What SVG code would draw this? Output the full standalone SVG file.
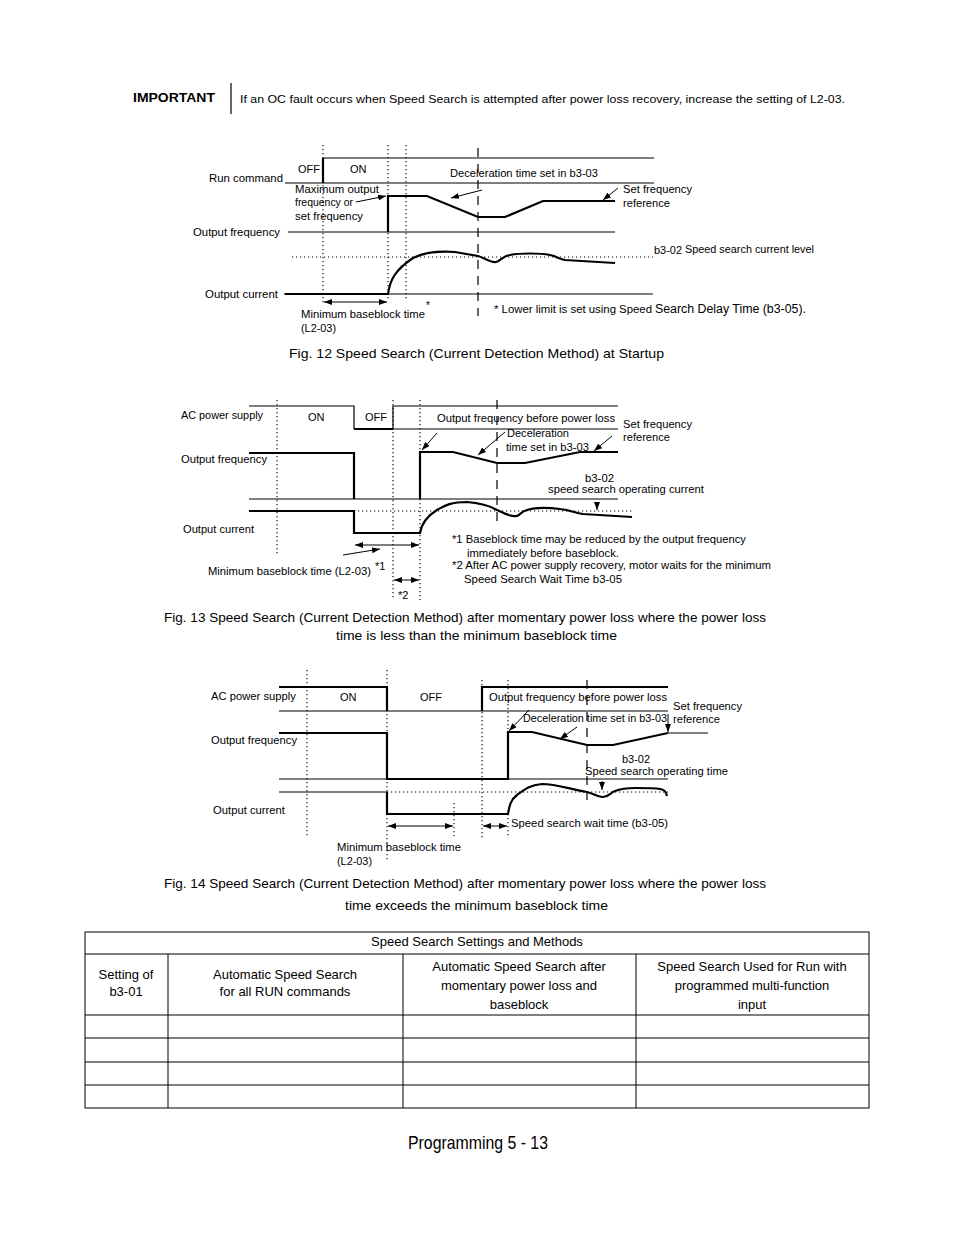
<svg xmlns="http://www.w3.org/2000/svg" width="954" height="1235" viewBox="0 0 954 1235">
<defs>
<marker id="ah" viewBox="0 0 8 6" refX="8" refY="3" markerWidth="8" markerHeight="6" markerUnits="userSpaceOnUse" orient="auto-start-reverse"><path d="M0,0 L8,3 L0,6 Z" fill="#000"/></marker>
<style>
text{font-family:"Liberation Sans",Arial,Helvetica,sans-serif;fill:#000;}
.t11{font-size:11px;}
.t10{font-size:10px;}
.t12{font-size:12px;}
.cap{font-size:13.5px;}
.tb{font-size:13px;}
.ax{stroke:#000;stroke-width:1.2;fill:none;}
.sig{stroke:#000;stroke-width:2.2;fill:none;}
.dot{stroke:#000;stroke-width:1.1;stroke-dasharray:1.2 2.8;fill:none;}
.dash{stroke:#000;stroke-width:1.2;stroke-dasharray:9 7;fill:none;}
.arr{stroke:#000;stroke-width:1;fill:none;marker-end:url(#ah);}
.dbl{stroke:#000;stroke-width:1;fill:none;marker-start:url(#ah);marker-end:url(#ah);}
.tl{stroke:#000;stroke-width:1;fill:none;}
</style>
</defs>
<rect width="954" height="1235" fill="#fff"/>

<g id="important">
<text x="133" y="102" style="font-size:13px;font-weight:bold" textLength="82" lengthAdjust="spacingAndGlyphs">IMPORTANT</text>
<line x1="231" y1="83" x2="231" y2="114" stroke="#000" stroke-width="1.2"/>
<text x="240" y="103" style="font-size:11.5px" textLength="605" lengthAdjust="spacingAndGlyphs">If an OC fault occurs when Speed Search is attempted after power loss recovery, increase the setting of L2-03.</text>
</g>

<g id="fig12">
<path class="dot" d="M323,145 V305 M388,145 V300 M406,145 V300 M292,257 H653"/>
<path class="dash" d="M478,148 V316"/>
<path class="ax" d="M323,158 H654 M285,183 H654 M288,232 H615 M284,294 H653"/>
<path class="sig" d="M323,158 V183"/>
<path class="sig" d="M388,232 V196 H427 L478,217 H505 L543,201 H615"/>
<path class="sig" d="M285,294 H388 C390,280 395,270 413,258 C425,252 440,251 455,252 L478,256 C485,258 490,263 496,262 C500,261 503,256 510,255 C520,253 540,253 550,255 C556,256 558,259 565,260 L615,263"/>
<text class="t11" x="209" y="182" textLength="74" lengthAdjust="spacingAndGlyphs">Run command</text>
<text class="t11" x="298" y="173">OFF</text>
<text class="t11" x="350" y="173">ON</text>
<text class="t11" x="450" y="177" textLength="148" lengthAdjust="spacingAndGlyphs">Deceleration time set in b3-03</text>
<text class="t11" x="295" y="193" textLength="84" lengthAdjust="spacingAndGlyphs">Maximum output</text>
<text class="t11" x="295" y="206" textLength="58" lengthAdjust="spacingAndGlyphs">frequency or</text>
<text class="t11" x="295" y="220" textLength="68" lengthAdjust="spacingAndGlyphs">set frequency</text>
<path class="arr" d="M356,202 L386,196"/>
<path class="arr" d="M482,190 L451,198"/>
<text class="t11" x="623" y="193" textLength="69" lengthAdjust="spacingAndGlyphs">Set frequency</text>
<text class="t11" x="623" y="207" textLength="47" lengthAdjust="spacingAndGlyphs">reference</text>
<path class="arr" d="M618,188 L603,200"/>
<text class="t11" x="193" y="236" textLength="87" lengthAdjust="spacingAndGlyphs">Output frequency</text>
<text class="t11" x="654" y="254" textLength="28" lengthAdjust="spacingAndGlyphs">b3-02</text>
<text class="t10" x="685" y="253" textLength="129" lengthAdjust="spacingAndGlyphs">Speed search current level</text>
<text class="t11" x="205" y="298" textLength="73" lengthAdjust="spacingAndGlyphs">Output current</text>
<path class="dbl" d="M324,302 H387"/>
<text class="t11" x="301" y="318" textLength="124" lengthAdjust="spacingAndGlyphs">Minimum baseblock time</text>
<text class="t11" x="301" y="332" textLength="35" lengthAdjust="spacingAndGlyphs">(L2-03)</text>
<text class="t10" x="426" y="309">*</text>
<text class="t10" x="494" y="313" textLength="158" lengthAdjust="spacingAndGlyphs">* Lower limit is set using Speed</text>
<text class="t12" x="655" y="313" textLength="151" lengthAdjust="spacingAndGlyphs">Search Delay Time (b3-05).</text>
<text class="cap" x="289" y="358" textLength="375" lengthAdjust="spacingAndGlyphs">Fig. 12  Speed Search (Current Detection Method) at Startup</text>
</g>

<g id="fig13">
<path class="dot" d="M277,400 V555 M393,400 V600 M420,400 V452 M420,499 V600 M354,511 H632"/>
<path class="dash" d="M497,400 V528"/>
<path class="ax" d="M249,406 H354 V429 M393,429 V406 H618 M354,429 H618 M249,499 H618"/>
<path class="sig" d="M354,429 H393"/>
<path class="sig" d="M249,453 H354 V499"/>
<path class="sig" d="M420,499 V452 H453 L497,463 H525 L580,452 H618"/>
<path class="sig" d="M249,511 H354 V533 H420 C421,527 424,518 437,510 C445,505 452,502 467,502 C480,503 490,506 497,510 C503,513 510,517 517,516 C520,515 522,511 527,510 C533,508 545,507 560,509 C570,510 575,513 583,514 L632,517"/>
<text class="t11" x="181" y="419" textLength="82" lengthAdjust="spacingAndGlyphs">AC power supply</text>
<text class="t11" x="308" y="421">ON</text>
<text class="t11" x="365" y="421">OFF</text>
<text class="t11" x="437" y="422" textLength="178" lengthAdjust="spacingAndGlyphs">Output frequency before power loss</text>
<path class="arr" d="M437,433 L422,450"/>
<text class="t11" x="623" y="428" textLength="69" lengthAdjust="spacingAndGlyphs">Set frequency</text>
<text class="t11" x="623" y="441" textLength="47" lengthAdjust="spacingAndGlyphs">reference</text>
<path class="arr" d="M612,436 L594,451"/>
<text class="t11" x="507" y="437" textLength="62" lengthAdjust="spacingAndGlyphs">Deceleration</text>
<text class="t11" x="506" y="451" textLength="83" lengthAdjust="spacingAndGlyphs">time set in b3-03</text>
<path class="arr" d="M505,432 L478,455"/>
<text class="t11" x="181" y="463" textLength="86" lengthAdjust="spacingAndGlyphs">Output frequency</text>
<text class="t11" x="585" y="482" textLength="29" lengthAdjust="spacingAndGlyphs">b3-02</text>
<text class="t11" x="548" y="493" textLength="156" lengthAdjust="spacingAndGlyphs">speed search operating current</text>
<path class="arr" d="M597,502 V510"/>
<text class="t11" x="183" y="533" textLength="71" lengthAdjust="spacingAndGlyphs">Output current</text>
<path class="dbl" d="M355,545 H419"/>
<path class="arr" d="M343,555 L380,549"/>
<text class="t11" x="208" y="575" textLength="163" lengthAdjust="spacingAndGlyphs">Minimum baseblock time (L2-03)</text>
<text class="t11" x="375" y="570">*1</text>
<path class="dbl" d="M394,580 H419"/>
<text class="t11" x="398" y="599">*2</text>
<text class="t11" x="452" y="543" textLength="294" lengthAdjust="spacingAndGlyphs">*1 Baseblock time may be reduced by the output frequency</text>
<text class="t11" x="467" y="557" textLength="152" lengthAdjust="spacingAndGlyphs">immediately before baseblock.</text>
<text class="t11" x="452" y="569" textLength="319" lengthAdjust="spacingAndGlyphs">*2 After AC power supply recovery, motor waits for the minimum</text>
<text class="t11" x="464" y="583" textLength="158" lengthAdjust="spacingAndGlyphs">Speed Search Wait Time  b3-05</text>
<text class="cap" x="164" y="622" textLength="602" lengthAdjust="spacingAndGlyphs">Fig. 13 Speed Search (Current Detection Method) after momentary power loss where the power loss</text>
<text class="cap" x="336" y="640" textLength="281" lengthAdjust="spacingAndGlyphs">time is less than the minimum baseblock time</text>
</g>

<g id="fig14">
<path class="dot" d="M307,670 V836 M387,670 V862 M454,803 V836 M482,680 V838 M508,680 V732 M508,814 V836 M387,792 H668"/>
<path class="dash" d="M587,680 V800"/>
<path class="ax" d="M279,711 H668 M279,779 H668 M279,792 H387 M668,733 H708"/>
<path class="sig" d="M279,687 H387 V711 M482,711 V687 H668"/>
<path class="sig" d="M279,733 H387 V779 H508 V732 H532 L587,745 H613 L668,733"/>
<path class="sig" d="M387,792 V814 H508 C509,808 510,800 517,795 C525,789 530,785 542,784 C555,784 570,789 587,792 C595,794 598,797 603,797 C608,797 610,793 615,791 C620,789 625,788 635,788 C645,788 655,788 660,789 C665,790 666,792 667,796"/>
<text class="t11" x="211" y="700" textLength="85" lengthAdjust="spacingAndGlyphs">AC power supply</text>
<text class="t11" x="340" y="701">ON</text>
<text class="t11" x="420" y="701">OFF</text>
<text class="t11" x="489" y="701" textLength="178" lengthAdjust="spacingAndGlyphs">Output frequency before power loss</text>
<path class="arr" d="M529,710 L509,731"/>
<text class="t11" x="673" y="710" textLength="69" lengthAdjust="spacingAndGlyphs">Set frequency</text>
<text class="t11" x="673" y="723" textLength="47" lengthAdjust="spacingAndGlyphs">reference</text>
<path class="arr" d="M668,714 V732"/>
<text class="t11" x="523" y="722" textLength="144" lengthAdjust="spacingAndGlyphs">Deceleration time set in b3-03</text>
<path class="arr" d="M577,727 L560,739"/>
<text class="t11" x="211" y="744" textLength="86" lengthAdjust="spacingAndGlyphs">Output frequency</text>
<text class="t11" x="622" y="763" textLength="28" lengthAdjust="spacingAndGlyphs">b3-02</text>
<text class="t11" x="585" y="775" textLength="143" lengthAdjust="spacingAndGlyphs">Speed search operating time</text>
<path class="arr" d="M602,781 V790"/>
<text class="t11" x="213" y="814" textLength="72" lengthAdjust="spacingAndGlyphs">Output current</text>
<path class="dbl" d="M388,826 H453"/>
<path class="dbl" d="M483,826 H507"/>
<text class="t11" x="511" y="827" textLength="157" lengthAdjust="spacingAndGlyphs">Speed search wait time (b3-05)</text>
<text class="t11" x="337" y="851" textLength="124" lengthAdjust="spacingAndGlyphs">Minimum baseblock time</text>
<text class="t11" x="337" y="865" textLength="35" lengthAdjust="spacingAndGlyphs">(L2-03)</text>
<text class="cap" x="164" y="888" textLength="602" lengthAdjust="spacingAndGlyphs">Fig. 14 Speed Search (Current Detection Method) after momentary power loss where the power loss</text>
<text class="cap" x="345" y="910" textLength="263" lengthAdjust="spacingAndGlyphs">time exceeds the minimum baseblock time</text>
</g>

<g id="table">
<rect x="85" y="932" width="784" height="176" fill="none" stroke="#000" stroke-width="1"/>
<path class="tl" d="M85,954 H869 M85,1015 H869 M85,1038 H869 M85,1062 H869 M85,1085 H869 M168,954 V1108 M403,954 V1108 M636,954 V1108"/>
<text class="tb" x="477" y="946" text-anchor="middle">Speed Search Settings and Methods</text>
<text class="tb" x="126" y="979" text-anchor="middle">Setting of</text>
<text class="tb" x="126" y="996" text-anchor="middle">b3-01</text>
<text class="tb" x="285" y="979" text-anchor="middle">Automatic Speed Search</text>
<text class="tb" x="285" y="996" text-anchor="middle">for all RUN commands</text>
<text class="tb" x="519" y="971" text-anchor="middle">Automatic Speed Search after</text>
<text class="tb" x="519" y="990" text-anchor="middle">momentary power loss and</text>
<text class="tb" x="519" y="1009" text-anchor="middle">baseblock</text>
<text class="tb" x="752" y="971" text-anchor="middle">Speed Search Used for Run with</text>
<text class="tb" x="752" y="990" text-anchor="middle">programmed multi-function</text>
<text class="tb" x="752" y="1009" text-anchor="middle">input</text>
</g>

<g id="footer">
<text x="408" y="1149" style="font-size:19px" textLength="140" lengthAdjust="spacingAndGlyphs">Programming  5 - 13</text>
</g>
</svg>
